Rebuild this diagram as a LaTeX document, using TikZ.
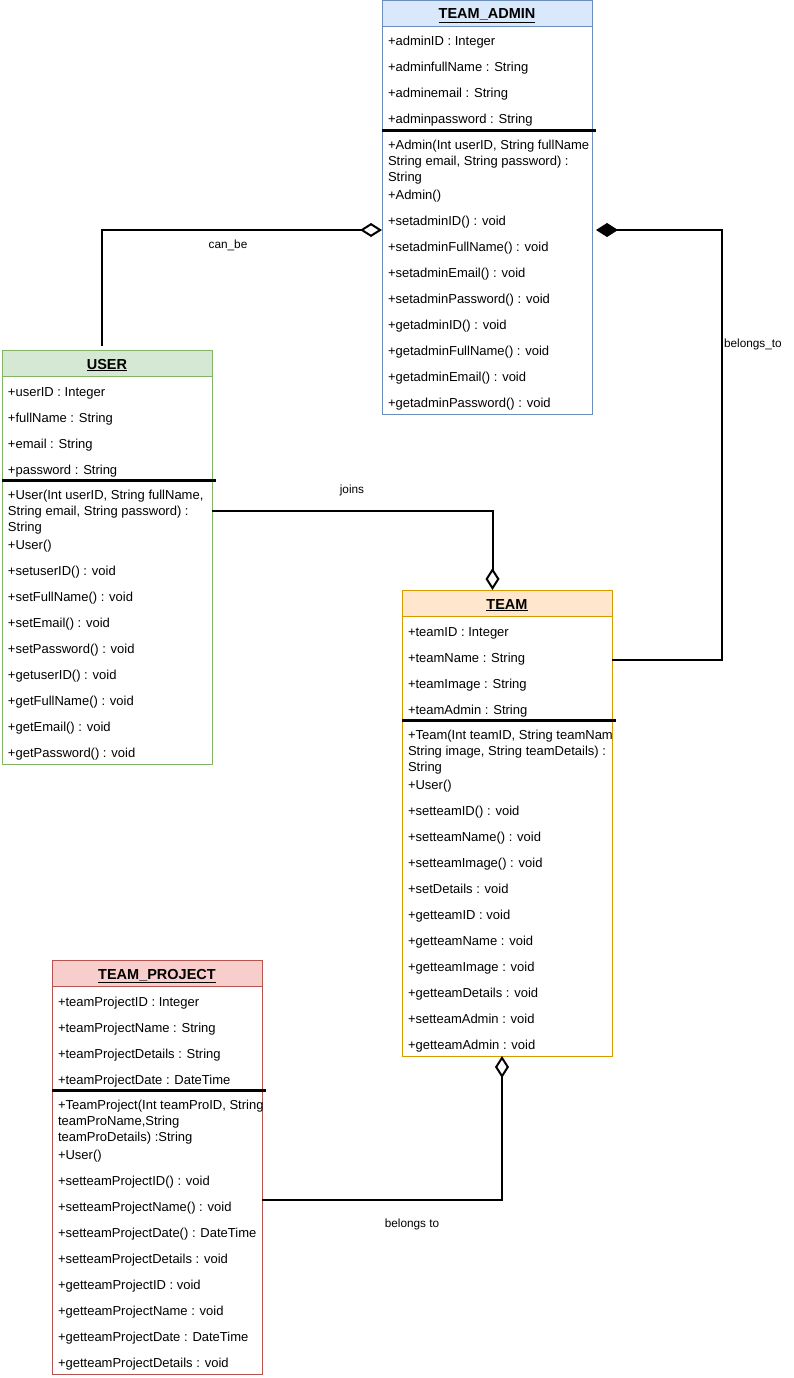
\documentclass[tikz,border=0pt]{standalone}
\usepackage{fontspec}
\setmainfont{Liberation Sans}
\usetikzlibrary{arrows.meta,calc}
\definecolor{adminfill}{HTML}{DAE8FC}\definecolor{adminline}{HTML}{6C8EBF}
\definecolor{userfill}{HTML}{D5E8D4}\definecolor{userline}{HTML}{82B366}
\definecolor{teamfill}{HTML}{FFE6CC}\definecolor{teamline}{HTML}{D79B00}
\definecolor{projfill}{HTML}{F8CECC}\definecolor{projline}{HTML}{B85450}
% #1 prefix, #2 x, #3 top, #4 attributes, #5 constructor lines, #6 constructor name, #7 methods
\newcommand\umlrows[7]{%
  \foreach \t [count=\i] in {#4} {\node[row] (#1a\i) at ({#2+6},{#3+20+26*\i}) {\t};}
  \foreach \t [count=\i] in {#5} {\node[row] (#1c\i) at ({#2+6},{#3+133.5+16*\i}) {\t};}
  \node[row] (#1k) at ({#2+6},{#3+199.5}) {#6};
  \foreach \t [count=\i] in {#7} {\node[row] (#1m\i) at ({#2+6},{#3+199.5+26*\i}) {\t};}
}
\begin{document}
\begin{tikzpicture}[x=1pt,y=-1pt,
  every node/.style={inner sep=0pt,outer sep=0pt},
  classbox/.style={draw=#1,line width=0.8pt,minimum width=210pt,anchor=north west,fill=white},
  hdr/.style 2 args={draw=#1,fill=#2,line width=0.8pt,minimum width=210pt,minimum height=26pt,anchor=north west},
  title/.style={anchor=base,font=\bfseries\fontsize{14.5}{16}\selectfont},
  row/.style={anchor=base west,font=\fontsize{13}{15}\selectfont},
  sepline/.style={line width=3.5pt},
  conn/.style={line width=2pt},
  lbl/.style={font=\fontsize{11.8}{14}\selectfont},
  odia/.style={-{Diamond[open,length=22pt,width=14pt]}},
  fdia/.style={-{Diamond[length=22pt,width=14pt]}}
]
\useasboundingbox (0,0) rectangle (793,1378);

% ---------- TEAM_ADMIN ----------
\node[classbox=adminline,minimum height=414pt] (admin) at (382,0) {};
\node[hdr={adminline}{adminfill}] (adminh) at (382,0) {};
\node[title] (admint) at ($(adminh.center)+(0,6)$) {\underline{TEAM\_ADMIN}};
\begin{scope}
\clip (admin.north west) rectangle (admin.south east);
\umlrows{ad}{382}{0}
 {{+adminID : Integer},{+adminfullName : String},{+adminemail : String},{+adminpassword : String}}
 {{+Admin(Int userID, String fullName},{String email, String password) :},{String}}
 {+Admin()}
 {{+setadminID() : void},{+setadminFullName() : void},{+setadminEmail() : void},{+setadminPassword() : void},{+getadminID() : void},{+getadminFullName() : void},{+getadminEmail() : void},{+getadminPassword() : void}}
\end{scope}
\coordinate (adsep) at (0,130.5);
\draw[sepline] (admin.west |- adsep) -- ($(admin.east |- adsep)+(4,0)$);

% ---------- USER ----------
\node[classbox=userline,minimum height=414pt] (user) at (2,350) {};
\node[hdr={userline}{userfill}] (userh) at (2,350) {};
\node[title] (usert) at ($(userh.center)+(0,6)$) {\underline{USER}};
\begin{scope}
\clip (user.north west) rectangle (user.south east);
\umlrows{us}{2}{350}
 {{+userID : Integer},{+fullName : String},{+email : String},{+password : String}}
 {{+User(Int userID, String fullName,},{String email, String password) :},{String}}
 {+User()}
 {{+setuserID() : void},{+setFullName() : void},{+setEmail() : void},{+setPassword() : void},{+getuserID() : void},{+getFullName() : void},{+getEmail() : void},{+getPassword() : void}}
\end{scope}
\coordinate (ussep) at (0,480.5);
\draw[sepline] (user.west |- ussep) -- ($(user.east |- ussep)+(4,0)$);

% ---------- TEAM ----------
\node[classbox=teamline,minimum height=466pt] (team) at (402,590) {};
\node[hdr={teamline}{teamfill}] (teamh) at (402,590) {};
\node[title] (teamt) at ($(teamh.center)+(0,6)$) {\underline{TEAM}};
\begin{scope}
\clip (team.north west) rectangle (team.south east);
\umlrows{tm}{402}{590}
 {{+teamID : Integer},{+teamName : String},{+teamImage : String},{+teamAdmin : String}}
 {{+Team(Int teamID, String teamName,},{String image, String teamDetails) :},{String}}
 {+User()}
 {{+setteamID() : void},{+setteamName() : void},{+setteamImage() : void},{+setDetails : void},{+getteamID : void},{+getteamName : void},{+getteamImage : void},{+getteamDetails : void},{+setteamAdmin : void},{+getteamAdmin : void}}
\end{scope}
\coordinate (tmsep) at (0,720.5);
\draw[sepline] (team.west |- tmsep) -- ($(team.east |- tmsep)+(4,0)$);

% ---------- TEAM_PROJECT ----------
\node[classbox=projline,minimum height=414pt] (proj) at (52,960) {};
\node[hdr={projline}{projfill}] (projh) at (52,960) {};
\node[title] (projt) at ($(projh.center)+(0,6)$) {\underline{TEAM\_PROJECT}};
\begin{scope}
\clip (proj.north west) rectangle (proj.south east);
\umlrows{pj}{52}{960}
 {{+teamProjectID : Integer},{+teamProjectName : String},{+teamProjectDetails : String},{+teamProjectDate : DateTime}}
 {{+TeamProject(Int teamProID, String},{teamProName,String},{teamProDetails) :String}}
 {+User()}
 {{+setteamProjectID() : void},{+setteamProjectName() : void},{+setteamProjectDate() : DateTime},{+setteamProjectDetails : void},{+getteamProjectID : void},{+getteamProjectName : void},{+getteamProjectDate : DateTime},{+getteamProjectDetails : void}}
\end{scope}
\coordinate (pjsep) at (0,1090.5);
\draw[sepline] (proj.west |- pjsep) -- ($(proj.east |- pjsep)+(4,0)$);

% ---------- connectors ----------
\coordinate (cby) at (0,230);
\coordinate (btx) at (722,0);
\coordinate (bty) at (0,660);
\coordinate (jny) at (0,510.5);
\coordinate (b2y) at (0,1200);

% can_be
\draw[conn,odia] ($(user.north)+(-5,-4)$) |- (admin.west |- cby);
\node[lbl] (lcanbe) at (228,245) {can\_be};

% belongs_to
\draw[conn,fdia] (team.east |- bty) -| (btx |- cby) -- ($(admin.east |- cby)+(4,0)$);
\node[lbl,anchor=west] (lbelongs) at (724,344) {belongs\_to};

% joins
\draw[conn,odia] (user.east |- jny) -| ($(team.north)+(-14.5,0)$);
\node[lbl] (ljoins) at (352,490) {joins};

% belongs to
\draw[conn,odia] (proj.east |- b2y) -| ($(team.south)+(-5,0)$);
\node[lbl] (lbelongs2) at (412,1224) {belongs to};
\end{tikzpicture}
\end{document}
